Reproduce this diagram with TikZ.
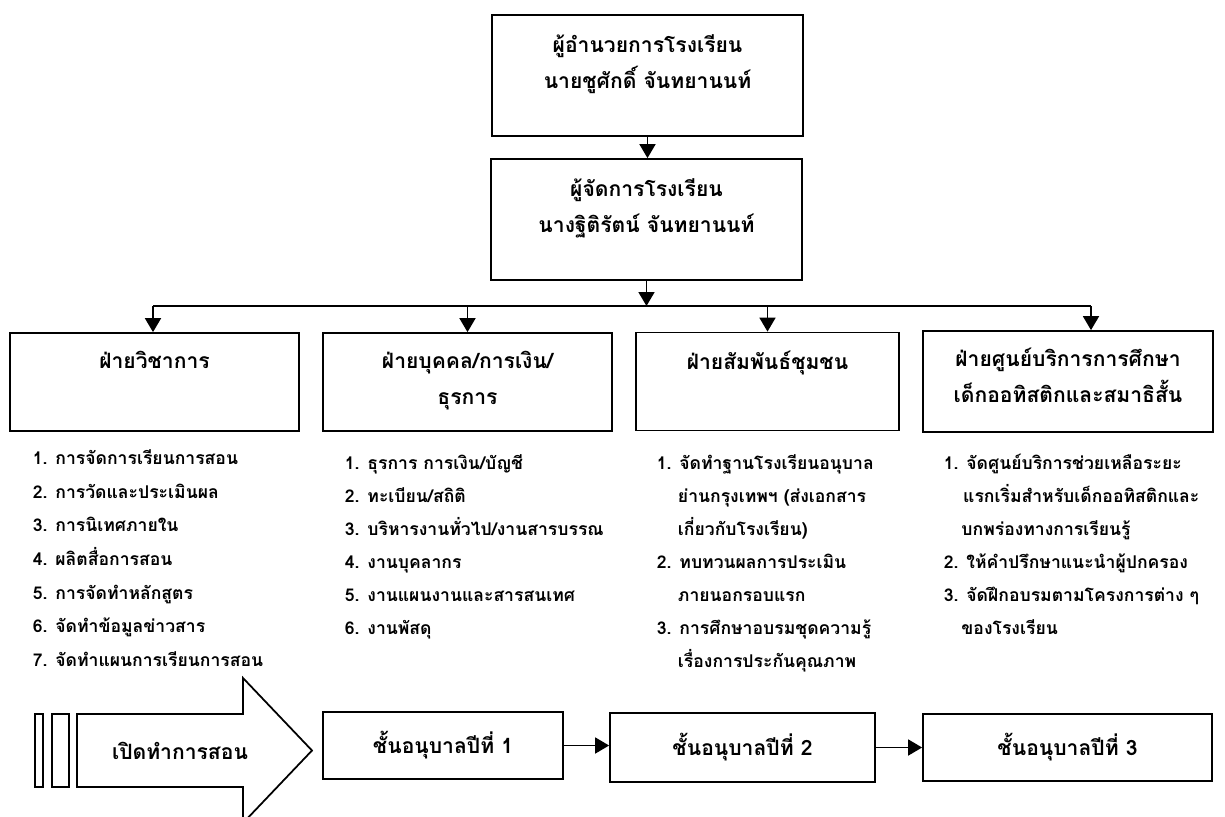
\documentclass[tikz,border=0pt]{standalone}
\usepackage{fontspec}
\usetikzlibrary{positioning,arrows.meta}
\newfontfamily\thai[Script=Thai]{Loma}
\tikzset{>={Triangle[length=2.8mm,width=3.2mm]}}
\tikzset{
  box/.style={draw,line width=1pt,inner sep=0pt},
  head/.style={font=\thai\bfseries\fontsize{12}{20.5}\selectfont,align=center,inner sep=0pt},
  item/.style={font=\thai\bfseries\fontsize{10}{19}\selectfont,inner sep=0pt,anchor=west,text height=7pt,text depth=2pt}}

\begin{document}
\begin{tikzpicture}[x=0.2mm,y=-0.2mm,line width=1pt]
    \useasboundingbox (0,0) rectangle (1225,816);
    \clip (0,0) rectangle (1225,816);
    \node[box,minimum width=62.2mm,minimum height=24.2mm] (dir) at (647.5,75.5) {};
    \node[box,minimum width=62.2mm,minimum height=24.2mm] (mgr) at (646.5,219.5) {};
    \node[head,below=4mm of dir.north] (dirName) {ผู้อำนวยการโรงเรียน\\นายชูศักดิ์ จันทยานนท์};
    \node[head,below=4mm of mgr.north] (mgrName) {ผู้จัดการโรงเรียน\\นางฐิติรัตน์ จันทยานนท์};
    \draw[->] (dir.south) -- (dir.south |- mgr.north);

    \node[box,minimum width=57.8mm,minimum height=19.6mm] (acad) at (154.5,382) {};
    \node[box,minimum width=57.8mm,minimum height=19.6mm] (pers) at (467.5,382) {};
    \node[box,minimum width=52.6mm,minimum height=19.6mm] (comm) at (767.5,381.5) {};
    \node[box,minimum width=58mm,minimum height=20.2mm] (auti) at (1068,381.5) {};
    \node[head,below=3.6mm of acad.north] (acadHead) {ฝ่ายวิชาการ};
    \node[head,below=3.6mm of pers.north] (persHead) {ฝ่ายบุคคล/การเงิน/\\ธุรการ};
    \node[head,below=3.6mm of comm.north] (commHead) {ฝ่ายสัมพันธ์ชุมชน};
    \node[head,below=3.4mm of auti.north] (autiHead) {ฝ่ายศูนย์บริการการศึกษา\\เด็กออทิสติกและสมาธิสั้น};

    \coordinate (busW) at (153,306);
    \coordinate (busE) at (1091,306);
    \draw[->] (mgr.south) -- (mgr.south |- busW);
    \draw (busW) -- (busE);
    \draw[->] (busW) -- (busW |- acad.north);
    \draw[->] (pers.north |- busW) -- (pers.north);
    \draw[->] (comm.north |- busW) -- (comm.north);
    \draw[->] (busE) -- (busE |- auti.north);

    \foreach \t [count=\i] in {{1. การจัดการเรียนการสอน},{2. การวัดและประเมินผล},{3. การนิเทศภายใน},
        {4. ผลิตสื่อการสอน},{5. การจัดทำหลักสูตร},{6. จัดทำข้อมูลข่าวสาร},{7. จัดทำแผนการเรียนการสอน}}
      \node[item] (acadItem\i) at (32,{460+(\i-1)*33.7}) {\t};
    \foreach \t [count=\i] in {{1. ธุรการ การเงิน/บัญชี},{2. ทะเบียน/สถิติ},{3. บริหารงานทั่วไป/งานสารบรรณ},
        {4. งานบุคลากร},{5. งานแผนงานและสารสนเทศ},{6. งานพัสดุ}}
      \node[item] (persItem\i) at (344,{465+(\i-1)*33}) {\t};
    \foreach \t [count=\i] in {{1. จัดทำฐานโรงเรียนอนุบาล},{\hspace{12pt}ย่านกรุงเทพฯ (ส่งเอกสาร},
        {\hspace{12pt}เกี่ยวกับโรงเรียน)},{2. ทบทวนผลการประเมิน},{\hspace{12pt}ภายนอกรอบแรก},
        {3. การศึกษาอบรมชุดความรู้},{\hspace{12pt}เรื่องการประกันคุณภาพ}}
      \node[item] (commItem\i) at (656,{465+(\i-1)*33}) {\t};
    \foreach \t [count=\i] in {{1. จัดศูนย์บริการช่วยเหลือระยะ},{\hspace{11pt}แรกเริ่มสำหรับเด็กออทิสติกและ},
        {\hspace{10pt}บกพร่องทางการเรียนรู้},{2. ให้คำปรึกษาแนะนำผู้ปกครอง},
        {3. จัดฝึกอบรมตามโครงการต่าง ๆ},{\hspace{10pt}ของโรงเรียน}}
      \node[item] (autiItem\i) at (943,{465+(\i-1)*33}) {\t};

    \draw (35,714) rectangle (43,787);
    \draw (52,714) rectangle (69,787);
    \draw (77,714) -- (243,714) -- (243,678) -- (312,750.5) -- (243,823) -- (243,787) -- (77,787) -- cycle;
    \node[head] (openText) at (180,751) {เปิดทำการสอน};

    \node[box,minimum width=48mm,minimum height=13.4mm,head] (lvlA) at (443,745.5) {ชั้นอนุบาลปีที่ 1};
    \node[box,minimum width=53mm,minimum height=13.8mm,head] (lvlB) at (742.5,747.5) {ชั้นอนุบาลปีที่ 2};
    \node[box,minimum width=57.8mm,minimum height=13.4mm,head] (lvlC) at (1067.5,747.5) {ชั้นอนุบาลปีที่ 3};
    \draw[->] (lvlA.east) -- (lvlA.east -| lvlB.west);
    \draw[->] (lvlB.east) -- (lvlB.east -| lvlC.west);
\end{tikzpicture}
\end{document}
